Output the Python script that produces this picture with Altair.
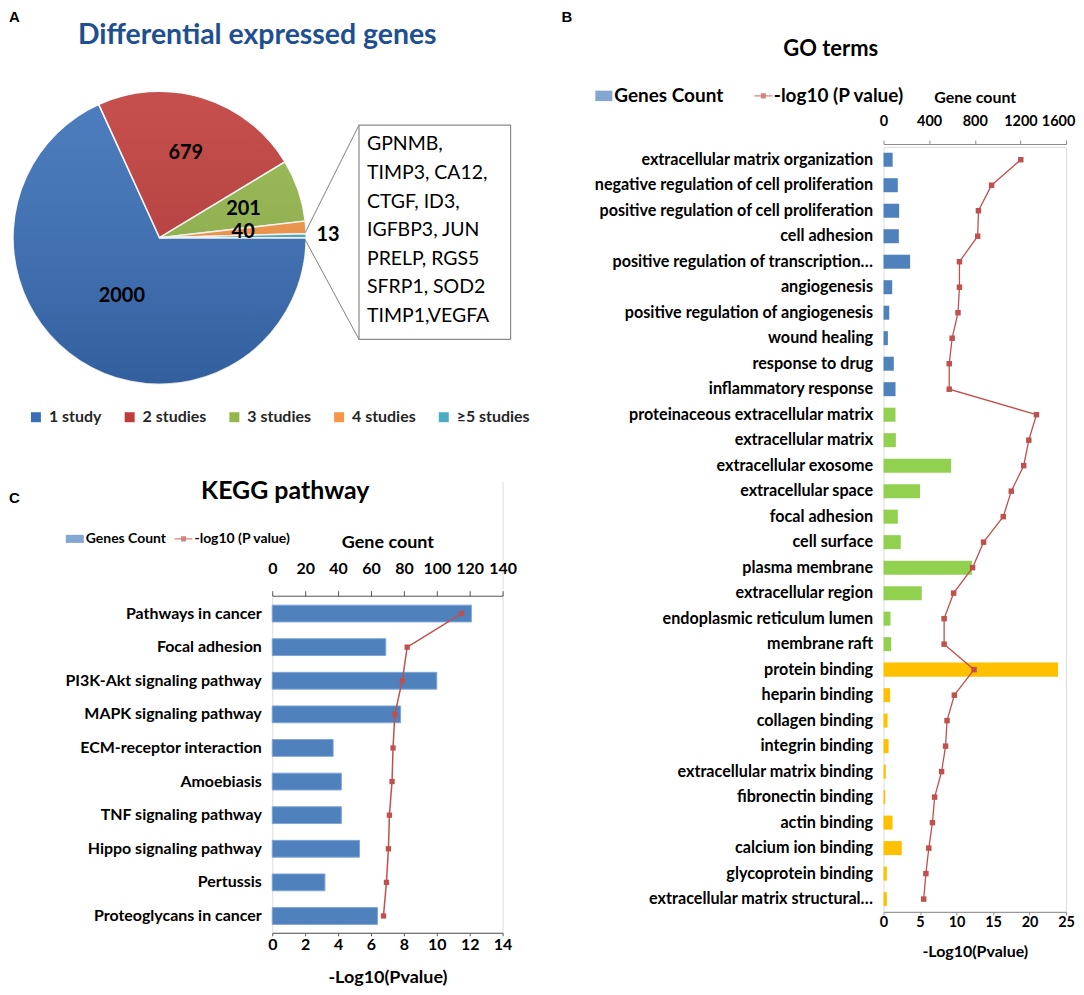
import math
import altair as alt
import pandas as pd

# ---------------- data ----------------
PIE_CATS = ["1 study", "2 studies", "3 studies", "4 studies", "≥5 studies"]
PIE_VALUES = [2000, 679, 201, 40, 13]
PIE_COLORS = ["#3A6FB8", "#BF3C3A", "#93B74B", "#F79646", "#4BACC6"]
GENE_LINES = ["GPNMB,", "TIMP3, CA12,", "CTGF, ID3,", "IGFBP3, JUN",
              "PRELP, RGS5", "SFRP1, SOD2", "TIMP1,VEGFA"]

GO_TERMS = [
    "extracellular matrix organization",
    "negative regulation of cell proliferation",
    "positive regulation of cell proliferation",
    "cell adhesion",
    "positive regulation of transcription…",
    "angiogenesis",
    "positive regulation of angiogenesis",
    "wound healing",
    "response to drug",
    "inflammatory response",
    "proteinaceous extracellular matrix",
    "extracellular matrix",
    "extracellular exosome",
    "extracellular space",
    "focal adhesion",
    "cell surface",
    "plasma membrane",
    "extracellular region",
    "endoplasmic reticulum lumen",
    "membrane raft",
    "protein binding",
    "heparin binding",
    "collagen binding",
    "integrin binding",
    "extracellular matrix binding",
    "fibronectin binding",
    "actin binding",
    "calcium ion binding",
    "glycoprotein binding",
    "extracellular matrix structural…",
]
GO_GROUPS = ["BP"] * 10 + ["CC"] * 10 + ["MF"] * 10
GO_COUNTS = [80, 125, 137, 134, 233, 76, 50, 38, 90, 105,
             105, 108, 592, 320, 125, 151, 775, 335, 61, 67,
             1530, 58, 35, 44, 20, 15, 79, 160, 29, 29]
GO_LOGP = [18.8, 14.8, 13.0, 12.9, 10.4, 10.4, 10.2, 9.4, 9.0, 9.0,
           20.95, 19.9, 19.2, 17.5, 16.4, 13.7, 12.2, 9.6, 8.3, 8.3,
           12.4, 9.7, 8.7, 8.5, 7.95, 7.0, 6.7, 6.2, 5.8, 5.5]
GO_GROUP_DOMAIN = ["BP", "CC", "MF"]
GO_GROUP_COLORS = ["#4F81BD", "#92D050", "#FFC000"]

KEGG_PATHWAYS = ["Pathways in cancer", "Focal adhesion", "PI3K-Akt signaling pathway",
                 "MAPK signaling pathway", "ECM-receptor interaction", "Amoebiasis",
                 "TNF signaling pathway", "Hippo signaling pathway", "Pertussis",
                 "Proteoglycans in cancer"]
KEGG_COUNTS = [121, 69, 100, 78, 37, 42, 42, 53, 32, 64]
KEGG_LOGP = [11.5, 8.2, 7.9, 7.45, 7.34, 7.28, 7.12, 7.06, 6.94, 6.76]

LEGEND_ENTRIES = ["Genes Count", "-log10 (P value)"]

# ---------------- style / layout ----------------
FONT = "Lato"
RED = "#C0504D"
BLUE = "#4F81BD"
GRAY = "#8C8C8C"
RECT_PATH = "M-0.95,-0.58H0.95V0.58H-0.95Z"
RECT_PATH_K = "M-1,-0.45H1V0.45H-1Z"
LINE_PATH = "M-1,-0.07H1V0.07H-1ZM-0.28,-0.28H0.28V0.28H-0.28Z"
LEFT_W, LEFT_H = 231, 788
GO_W, GO_H = 183, 767

# callout leader lines (annotation geometry, pixels in the left panel)
LEADER_SEG = [0, 0, 1, 1]
LEADER_X = [33, 87, 33, 87]
LEADER_Y = [86, -22, 93, 193]

one = pd.DataFrame({"k": [0]})


def label_text(txt, x, y, size, weight="bold", font=FONT, color="black",
               align="left", baseline="top"):
    return alt.Chart(pd.DataFrame({"t": [txt]})).mark_text(
        font=font, fontSize=size, fontWeight=weight, color=color,
        align=align, baseline=baseline
    ).encode(x=alt.value(x), y=alt.value(y), text="t:N")


# white backdrops behind the pie area (plain page background)
backdrop = alt.Chart(one).mark_rect(fill="white", strokeWidth=0).encode(
    x=alt.value(-4), x2=alt.value(236), y=alt.value(-4), y2=alt.value(336))
backdrop2 = alt.Chart(one).mark_rect(fill="white", strokeWidth=0).encode(
    x=alt.value(-3), x2=alt.value(3), y=alt.value(330), y2=alt.value(448))

# ---------------- pie (panel A) ----------------
pie_df = pd.DataFrame({"cat": PIE_CATS, "value": PIE_VALUES, "idx": list(range(len(PIE_CATS)))})
CX, CY, R = -113, 91, 147
THETA = alt.Theta("value:Q", stack=True,
                  scale=alt.Scale(range=[math.pi / 2, math.pi / 2 + 2 * math.pi]))
pie_legend = alt.Legend(orient="none", legendX=-245, legendY=263, direction="horizontal",
                        title=None, symbolType="square", symbolSize=100, symbolStrokeWidth=0,
                        labelFont=FONT, labelFontSize=16, labelFontWeight="bold",
                        labelColor="#262626", labelOffset=5, columnPadding=20)
arc = alt.Chart(pie_df).mark_arc(radius=R, stroke="white", strokeWidth=1.5).encode(
    theta=THETA,
    color=alt.Color("cat:N", scale=alt.Scale(domain=PIE_CATS, range=PIE_COLORS), legend=pie_legend),
    order=alt.Order("idx:Q"),
    x=alt.value(CX), y=alt.value(CY),
)
shade = alt.Chart(one).mark_arc(
    radius=R, theta=0, theta2=2 * math.pi,
    color=alt.LinearGradient(
        gradient="linear", x1=0, y1=0, x2=0, y2=1,
        stops=[alt.GradientStop(color="rgba(255,255,255,0.10)", offset=0),
               alt.GradientStop(color="rgba(0,0,0,0.14)", offset=1)])
).encode(x=alt.value(CX), y=alt.value(CY))


def pie_labels(idxs, r):
    return alt.Chart(pie_df).transform_calculate(
        lab=f"indexof({idxs}, datum.idx) >= 0 ? toString(datum.value) : ''"
    ).mark_text(radius=r, font=FONT, fontSize=20, fontWeight="bold", color="black").encode(
        theta=THETA, order=alt.Order("idx:Q"), text="lab:N",
        x=alt.value(CX), y=alt.value(CY),
    )


lab_a = pie_labels([0], 70)
lab_b = pie_labels([1, 2], 89)
lab_c = pie_labels([3], 84)
lab_d = pie_labels([4], 169)

box = alt.Chart(one).mark_rect(fill="white", stroke="#8A8A8A", strokeWidth=1.2).encode(
    x=alt.value(87), x2=alt.value(239), y=alt.value(-22), y2=alt.value(193))
leader_df = pd.DataFrame({"seg": LEADER_SEG, "px": LEADER_X, "py": LEADER_Y})
leaders = alt.Chart(leader_df).mark_line(color="#808080", strokeWidth=1).encode(
    x=alt.X("px:Q", scale=None),
    y=alt.Y("py:Q", scale=None),
    detail="seg:N",
)
box_text = alt.Chart(one).mark_text(
    text=GENE_LINES, align="left", baseline="top", font=FONT, fontSize=19.5,
    lineHeight=28.6, color="black"
).encode(x=alt.value(95), y=alt.value(-11.5))

tA = label_text("A", -264, -137, 15, font="Liberation Sans")
tPie = label_text("Differential expressed genes", -15, -112, 28.5, color="#1E4F91",
                  align="center", baseline="middle")

# ---------------- KEGG (panel C) ----------------
kegg_df = pd.DataFrame({"pathway": KEGG_PATHWAYS, "count": KEGG_COUNTS,
                        "logp": KEGG_LOGP, "idx": list(range(len(KEGG_PATHWAYS)))})
KY_AXIS = alt.Axis(title=None, domain=False, ticks=False, labelPadding=11, labelFont=FONT,
                   labelFontSize=16, labelFontWeight="bold", labelColor="black", labelLimit=400,
                   zindex=1)
KY = alt.Y("pathway:N", sort=KEGG_PATHWAYS,
           scale=alt.Scale(range=[451, 788], paddingInner=0.5, paddingOuter=0.25), axis=KY_AXIS)
kegg_bars = alt.Chart(kegg_df).mark_bar(color=BLUE, stroke="#7EA6DC", strokeWidth=1).encode(
    x=alt.X("count:Q", scale=alt.Scale(domain=[0, 140], nice=False),
            axis=alt.Axis(orient="top", offset=-450, values=list(range(0, 141, 20)), format="d",
                          title="Gene count", titleFont=FONT, titleFontSize=18,
                          titleFontWeight="bold", titleColor="black", titlePadding=9,
                          labelFont=FONT, labelFontSize=16, labelFontWeight="bold",
                          labelColor="black", labelPadding=14, labelFlush=False,
                          labelOverlap=False, tickSize=5, tickColor="#555555",
                          domainColor="#555555", grid=False, zindex=1)),
    y=KY,
)
kegg_line = alt.Chart(kegg_df).mark_line(
    color=RED, strokeWidth=1.5,
    point=alt.OverlayMarkDef(shape="square", size=28, filled=True, color=RED)
).encode(
    x=alt.X("logp:Q", scale=alt.Scale(domain=[0, 14], nice=False),
            axis=alt.Axis(orient="bottom", values=list(range(0, 15, 2)), format="d",
                          title="-Log10(Pvalue)", titleFont=FONT, titleFontSize=18,
                          titleFontWeight="bold", titleColor="black", titlePadding=16,
                          labelFont=FONT, labelFontSize=16, labelFontWeight="bold",
                          labelColor="black", labelPadding=1, labelFlush=False,
                          labelOverlap=False, tickSize=3, tickColor="#555555",
                          domainColor="#555555", grid=False, zindex=1)),
    y=KY,
    order=alt.Order("idx:Q"),
)
kegg = alt.layer(kegg_bars, kegg_line).resolve_scale(x="independent")

kegg_leg_def = alt.Legend(orient="none", legendX=-207, legendY=384, direction="horizontal",
                          title=None, symbolSize=324, symbolStrokeWidth=0, labelFont=FONT,
                          labelFontSize=14, labelFontWeight="bold", labelColor="black",
                          labelOffset=2, columnPadding=8)
leg_df = pd.DataFrame({"entry": LEGEND_ENTRIES})
kegg_leg = alt.Chart(leg_df).transform_filter("false").mark_point(filled=True).encode(
    color=alt.Color("entry:N", scale=alt.Scale(domain=LEGEND_ENTRIES, range=[BLUE, RED]),
                    legend=kegg_leg_def),
    shape=alt.Shape("entry:N", scale=alt.Scale(domain=LEGEND_ENTRIES, range=[RECT_PATH_K, LINE_PATH]),
                    legend=kegg_leg_def),
)
tC = label_text("C", -264, 345, 15, font="Liberation Sans")
tKegg = label_text("KEGG pathway", 13, 345, 25, align="center", baseline="middle")

left = alt.layer(
    backdrop, backdrop2, arc, shade, lab_a, lab_b, lab_c, lab_d, leaders, box, box_text,
    tA, tPie, kegg, kegg_leg, tC, tKegg
).resolve_scale(x="independent", y="independent", color="independent",
                shape="independent").properties(width=LEFT_W, height=LEFT_H)

# ---------------- GO (panel B) ----------------
go_df = pd.DataFrame({"term": GO_TERMS, "group": GO_GROUPS, "count": GO_COUNTS,
                      "logp": GO_LOGP, "idx": list(range(len(GO_TERMS)))})
GY_AXIS = alt.Axis(title=None, domain=False, ticks=False, labelPadding=11, labelFont=FONT,
                   labelFontSize=16.2, labelFontWeight="bold", labelColor="black", labelLimit=400)
GY = alt.Y("term:N", sort=GO_TERMS, scale=alt.Scale(paddingInner=0.45, paddingOuter=0.225),
           axis=GY_AXIS)
go_bars = alt.Chart(go_df).mark_bar().encode(
    x=alt.X("count:Q", scale=alt.Scale(domain=[0, 1600], nice=False),
            axis=alt.Axis(orient="top", offset=3, values=[0, 400, 800, 1200, 1600], format="d",
                          title="Gene count", titleFont=FONT, titleFontSize=16,
                          titleFontWeight="bold", titleColor="black", titlePadding=8,
                          labelFont=FONT, labelFontSize=14.5, labelFontWeight="bold",
                          labelColor="black", labelPadding=12, labelFlush=False,
                          labelOffset={"condition": {"test": "datum.value === 1600", "value": -8},
                                       "value": 0},
                          labelOverlap=False, tickSize=4, tickColor=GRAY,
                          domainColor=GRAY, grid=False)),
    y=GY,
    fill=alt.Fill("group:N", scale=alt.Scale(domain=GO_GROUP_DOMAIN, range=GO_GROUP_COLORS),
                  legend=None),
)
go_line = alt.Chart(go_df).mark_line(
    color=RED, strokeWidth=1.3,
    point=alt.OverlayMarkDef(shape="square", size=30, filled=True, color=RED)
).encode(
    x=alt.X("logp:Q", scale=alt.Scale(domain=[0, 25], nice=False),
            axis=alt.Axis(orient="bottom", values=[0, 5, 10, 15, 20, 25], format="d",
                          title="-Log10(Pvalue)", titleFont=FONT, titleFontSize=16,
                          titleFontWeight="bold", titleColor="black", titlePadding=14,
                          labelFont=FONT, labelFontSize=14.5, labelFontWeight="bold",
                          labelColor="black", labelPadding=1, labelFlush=False,
                          labelOverlap=False, tickSize=3, tickColor=GRAY,
                          domainColor=GRAY, grid=False)),
    y=GY,
    order=alt.Order("idx:Q"),
)
go_leg_def = alt.Legend(orient="none", legendX=-290, legendY=-61, direction="horizontal",
                        title=None, symbolSize=324, symbolStrokeWidth=0, labelFont=FONT,
                        labelFontSize=19, labelFontWeight="bold", labelColor="black",
                        labelOffset=1, columnPadding=30)
go_leg = alt.Chart(leg_df).transform_filter("false").mark_point(filled=True).encode(
    color=alt.Color("entry:N", scale=alt.Scale(domain=LEGEND_ENTRIES, range=[BLUE, RED]),
                    legend=go_leg_def),
    shape=alt.Shape("entry:N", scale=alt.Scale(domain=LEGEND_ENTRIES, range=[RECT_PATH, LINE_PATH]),
                    legend=go_leg_def),
)
tB = label_text("B", -323, -137, 15, font="Liberation Sans")
tGo = label_text("GO terms", -53, -98, 22, align="center", baseline="middle")

go = alt.layer(go_bars, go_line, go_leg, tB, tGo).resolve_scale(
    x="independent").properties(width=GO_W, height=GO_H)

chart = alt.hconcat(left, go, spacing=382).resolve_scale(
    color="independent", shape="independent", fill="independent"
).properties(bounds="flush", padding=0).configure_view(
    stroke=None, fill=None, strokeOpacity=0, strokeWidth=0
).configure(font=FONT)

chart.save("out.html", embed_options={"renderer": "svg", "actions": False})
